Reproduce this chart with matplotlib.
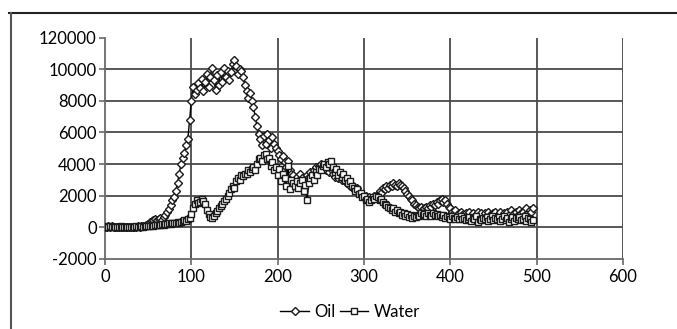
import numpy as np
import matplotlib
matplotlib.use("Agg")
import matplotlib.pyplot as plt
from matplotlib.lines import Line2D

# sample positions (every 2 units, 0..496)
x = np.arange(0, 497, 2)

oil = [
    50, 0, 80, 20, 60, 0, 40, 30, 0, 50,
    20, 0, 30, 10, 0, 40, 20, 50, 30, 60,
    40, 80, 60, 100, 120, 200, 350, 420, 480, 520,
    450, 500, 560, 480, 650, 800, 950, 1150, 1400, 1700,
    1900, 2300, 2800, 3400, 4000, 4400, 4700, 5200, 5600, 6800,
    8000, 8900, 8400, 8700, 9100, 8800, 9400, 8600, 9200, 9700,
    8900, 9500, 10100, 9300, 8700, 9600, 9000, 9800, 9200, 10100,
    9500, 9900, 9300, 9800, 10300, 10570, 10200, 9700, 10000, 9900,
    9500, 9000, 8600, 8200, 8500, 8000, 7600, 7000, 6400, 5900,
    5600, 5200, 5800, 5300, 5900, 5500, 5000, 5700, 5300, 5000,
    4800, 4600, 4300, 4500, 4100, 3800, 4200, 3600, 3400, 3300,
    3000, 3200, 2900, 3400, 3100, 2600, 3000, 3300, 3200, 3500,
    3300, 3600, 3800, 3500, 3900, 4000, 3700, 3900, 3600, 3800,
    3500, 3700, 3400, 3200, 3500, 3100, 3300, 3000, 3200, 2900,
    2800, 2900, 2600, 2700, 2500, 2400, 2500, 2200, 2100, 2000,
    1900, 2000, 1800, 1900, 1700, 1800, 2000, 1900, 2100, 2300,
    2200, 2500, 2400, 2600, 2500, 2700, 2600, 2800, 2700, 2600,
    2800, 2700, 2600, 2500, 2300, 2100, 2000, 1800, 1700, 1500,
    1400, 1300, 1200, 1300, 1100, 1200, 1300, 1200, 1400, 1300,
    1500, 1400, 1600, 1500, 1700, 1800, 1600, 1700, 1500, 1300,
    1200, 1000, 900, 1100, 800, 900, 1000, 800, 700, 900,
    800, 1000, 700, 900, 600, 800, 1000, 700, 900, 600,
    900, 700, 1000, 800, 600, 900, 1000, 700, 800, 1000,
    700, 900, 600, 1000, 800, 1100, 700, 900, 1000, 800,
    1100, 900, 1000, 800, 1200, 900, 1100, 1000, 1200,
]

water = [
    0, 60, 20, 80, 10, 40, 0, 50, 30, 70,
    0, 30, 10, 40, 20, 0, 50, 30, 60, 20,
    40, 80, 50, 90, 60, 100, 80, 120, 100, 150,
    120, 180, 150, 200, 160, 230, 200, 260, 220, 280,
    250, 300, 350, 280, 330, 400, 450, 380, 500, 600,
    850, 1200, 1500, 1700, 1550, 1600, 1800, 1650, 1450, 1100,
    840, 650, 600, 700, 900, 1050, 1200, 1350, 1450, 1650,
    1800, 1950, 2200, 2450, 2600, 2500, 2900, 3100, 3000, 3300,
    3250, 3400, 3350, 3600, 3500, 3700, 3800, 3650, 4000, 4300,
    4400, 4200, 4600, 4650, 4300, 4400, 3900, 4100, 3600, 3800,
    3300, 3700, 2900, 3400, 3100, 2600, 3900, 2400, 3000, 2800,
    2600, 2900, 2500, 2800, 3000, 2300, 2700, 1700, 2800, 3100,
    3300, 3000, 3500, 3300, 3700, 3600, 3900, 4000, 3800, 4100,
    4000, 4200, 3800, 3500, 3700, 3300, 3500, 3200, 3400, 3000,
    3100, 2800, 2900, 2600, 2500, 2300, 2400, 2100, 2200, 1900,
    2000, 1700, 1800, 1600, 1700, 1900, 1800, 2000, 1900, 1700,
    1800, 1600, 1500, 1400, 1300, 1200, 1100, 1200, 1000, 1100,
    900, 1000, 800, 900, 700, 850, 650, 800, 600, 700,
    650, 800, 700, 900, 750, 850, 700, 900, 800, 700,
    900, 750, 850, 700, 800, 650, 750, 600, 700, 650,
    550, 700, 600, 500, 650, 550, 700, 500, 600, 450,
    550, 650, 400, 600, 500, 700, 350, 550, 450, 600,
    500, 650, 400, 550, 700, 450, 600, 500, 650, 400,
    550, 700, 450, 600, 350, 550, 650, 400, 600, 500,
    650, 450, 550, 700, 400, 600, 500, 350, 450,
]

y_ticks = [-2000, 0, 2000, 4000, 6000, 8000, 10000, 12000]
y_tick_labels = ["-2000", "0", "2000", "4000", "6000", "8000", "10000", "120000"]
x_ticks = [0, 100, 200, 300, 400, 500, 600]

plt.rcParams["font.family"] = ["Lato", "DejaVu Sans"]

fig = plt.figure(figsize=(6.77, 3.29), dpi=100)
ax = fig.add_axes([0.1551, 0.2128, 0.7651, 0.6732])

grid_c = "#4a4a4a"
ax.plot(x, oil, color="black", lw=1.0, marker="D", ms=4.0, mfc="white",
        mec="#1a1a1a", mew=1.0, label="Oil", zorder=3)
ax.plot(x, water, color="black", lw=1.0, marker="s", ms=4.8, mfc="white",
        mec="#1a1a1a", mew=1.0, label="Water", zorder=3)

ax.set_xlim(0, 600)
ax.set_ylim(-2000, 12000)
ax.set_xticks(x_ticks)
ax.set_yticks(y_ticks)
ax.set_yticklabels(y_tick_labels)

# gridlines (no line at the top value)
for yv in y_ticks[1:-1]:
    ax.axhline(yv, color=grid_c, lw=1.3, zorder=1)
for xv in x_ticks[1:]:
    ax.axvline(xv, color=grid_c, lw=1.3, zorder=1)

for s in ["top", "right"]:
    ax.spines[s].set_visible(False)
for s in ["left", "bottom"]:
    ax.spines[s].set_color("#6a6a6a")
    ax.spines[s].set_linewidth(1.3)
ax.tick_params(axis="both", colors="#6a6a6a", length=4, width=1.2,
               labelsize=12, labelcolor="black", pad=2)
ax.tick_params(axis="x", pad=3)

fig.legend(loc="center", bbox_to_anchor=(0.517, 0.052), ncol=2, frameon=False,
           fontsize=12, handlelength=1.7, handletextpad=0.3, columnspacing=0.3)

# outer frame (top and left edges)
fig.add_artist(Line2D([9 / 677, 1.0], [1 - 13 / 329, 1 - 13 / 329],
                      transform=fig.transFigure, color="#222222", lw=1.5))
fig.add_artist(Line2D([11 / 677, 11 / 677], [1 - 13 / 329, 0.0],
                      transform=fig.transFigure, color="#555555", lw=1.5))

fig.savefig("out.png", dpi=100)
